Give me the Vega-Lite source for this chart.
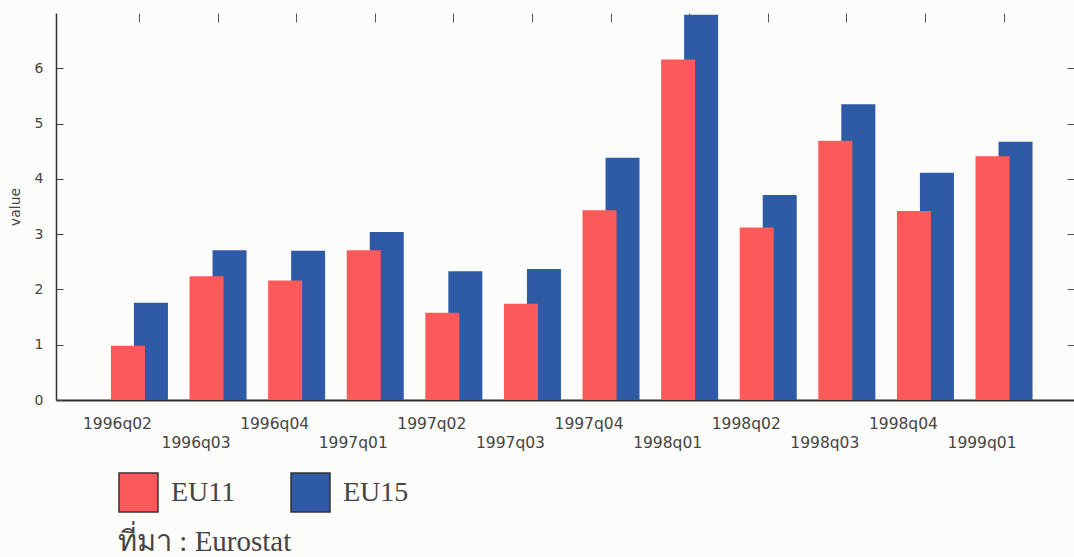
{
  "$schema": "https://vega.github.io/schema/vega-lite/v6.json",
  "autosize": {"type": "none"},
  "width": 1018,
  "height": 387,
  "padding": {"left": 56, "top": 13, "right": 0, "bottom": 157},
  "background": "#fcfcfa",
  "title": {
    "text": "ที่มา : Eurostat",
    "orient": "bottom",
    "anchor": "start",
    "dx": 110,
    "offset": 13,
    "font": "Liberation Serif",
    "fontSize": 29,
    "fontWeight": "normal",
    "color": "#454545"
  },
  "data": {
    "values": [
      {"quarter": "1996q02", "series": "EU15", "value": 1.76},
      {"quarter": "1996q03", "series": "EU15", "value": 2.71},
      {"quarter": "1996q04", "series": "EU15", "value": 2.70},
      {"quarter": "1997q01", "series": "EU15", "value": 3.04},
      {"quarter": "1997q02", "series": "EU15", "value": 2.33},
      {"quarter": "1997q03", "series": "EU15", "value": 2.37},
      {"quarter": "1997q04", "series": "EU15", "value": 4.38},
      {"quarter": "1998q01", "series": "EU15", "value": 6.97},
      {"quarter": "1998q02", "series": "EU15", "value": 3.71},
      {"quarter": "1998q03", "series": "EU15", "value": 5.35},
      {"quarter": "1998q04", "series": "EU15", "value": 4.11},
      {"quarter": "1999q01", "series": "EU15", "value": 4.67},
      {"quarter": "1996q02", "series": "EU11", "value": 0.98},
      {"quarter": "1996q03", "series": "EU11", "value": 2.24},
      {"quarter": "1996q04", "series": "EU11", "value": 2.16},
      {"quarter": "1997q01", "series": "EU11", "value": 2.71},
      {"quarter": "1997q02", "series": "EU11", "value": 1.58},
      {"quarter": "1997q03", "series": "EU11", "value": 1.74},
      {"quarter": "1997q04", "series": "EU11", "value": 3.43},
      {"quarter": "1998q01", "series": "EU11", "value": 6.16},
      {"quarter": "1998q02", "series": "EU11", "value": 3.12},
      {"quarter": "1998q03", "series": "EU11", "value": 4.69},
      {"quarter": "1998q04", "series": "EU11", "value": 3.42},
      {"quarter": "1999q01", "series": "EU11", "value": 4.41}
    ]
  },
  "layer": [
    {
      "transform": [{"filter": "datum.series === 'EU15'"}],
      "mark": {"type": "bar", "width": 34, "xOffset": 11.5},
      "encoding": {
        "x": {
          "field": "quarter",
          "type": "nominal",
          "sort": null,
          "scale": {"paddingInner": 0, "paddingOuter": 0.476, "align": 0.59},
          "axis": {
            "orient": "bottom",
            "title": null,
            "ticks": false,
            "domain": true,
            "domainColor": "#2a2a2a",
            "domainWidth": 2,
            "labelAngle": 0,
            "labelOverlap": false,
            "labelOffset": -22,
            "labelBaseline": "top",
            "labelPadding": {
              "condition": {"test": "indexof(['1996q03','1997q01','1997q03','1998q01','1998q03','1999q01'], datum.value) >= 0", "value": 35},
              "value": 16
            },
            "labelFont": "DejaVu Sans",
            "labelFontSize": 15.5,
            "labelColor": "#454545"
          }
        },
        "y": {
          "field": "value",
          "type": "quantitative",
          "scale": {"domain": [0, 7], "nice": false},
          "axis": {
            "orient": "left",
            "title": "value",
            "titleFont": "DejaVu Sans",
            "titleFontSize": 14,
            "titleFontWeight": "normal",
            "titleColor": "#454545",
            "titlePadding": 12,
            "values": [0, 1, 2, 3, 4, 5, 6],
            "grid": false,
            "domain": true,
            "domainColor": "#333333",
            "domainWidth": 1.5,
            "tickSize": -7,
            "tickColor": "#444444",
            "labelPadding": 20,
            "labelFont": "DejaVu Sans",
            "labelFontSize": 14,
            "labelColor": "#454545"
          }
        },
        "color": {
          "field": "series",
          "type": "nominal",
          "scale": {"domain": ["EU11", "EU15"], "range": ["#fc5a5a", "#2e5aa6"]},
          "legend": {
            "title": null,
            "orient": "none",
            "direction": "horizontal",
            "legendX": 62,
            "legendY": 459,
            "symbolType": "square",
            "symbolSize": 1521,
            "symbolStrokeColor": "#333333",
            "symbolStrokeWidth": 1.5,
            "symbolOpacity": 1,
            "labelFont": "Liberation Serif",
            "labelFontSize": 28,
            "labelColor": "#454545",
            "labelOffset": 12,
            "columnPadding": 52
          }
        }
      }
    },
    {
      "transform": [{"filter": "datum.series === 'EU11'"}],
      "mark": {"type": "bar", "width": 34, "xOffset": -11.5},
      "encoding": {
        "x": {
          "field": "quarter",
          "type": "nominal",
          "sort": null,
          "axis": {
            "orient": "top",
            "title": null,
            "labels": false,
            "domain": false,
            "ticks": true,
            "tickSize": -9,
            "tickColor": "#555555"
          }
        },
        "y": {
          "field": "value",
          "type": "quantitative",
          "axis": {
            "orient": "right",
            "title": null,
            "labels": false,
            "domain": false,
            "grid": false,
            "values": [1, 2, 3, 4, 5, 6],
            "tickSize": -7,
            "tickColor": "#555555"
          }
        },
        "color": {"field": "series", "type": "nominal"}
      }
    }
  ],
  "resolve": {"axis": {"x": "independent", "y": "independent"}},
  "config": {"view": {"stroke": null}}
}
